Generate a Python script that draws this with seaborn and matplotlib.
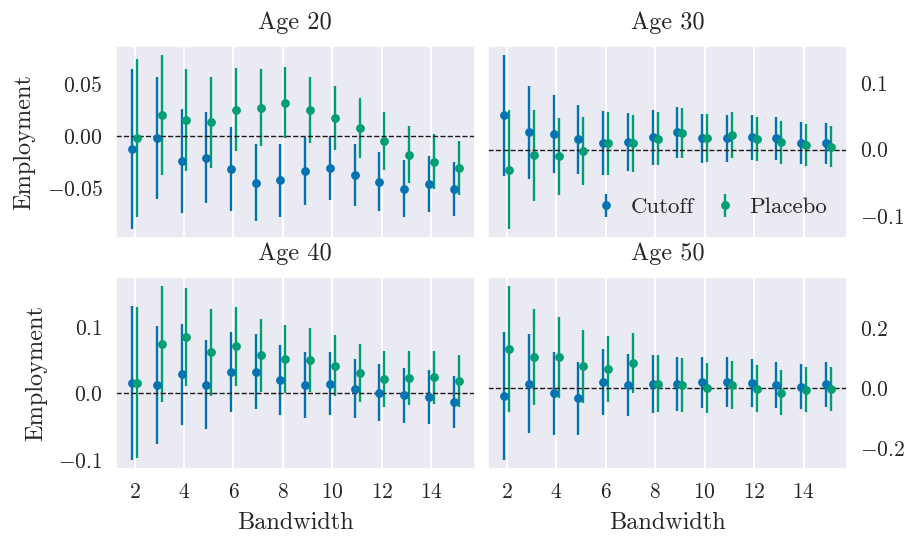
import numpy as np
import seaborn as sns
import matplotlib.pyplot as plt
from matplotlib.ticker import MultipleLocator

bandwidth = np.arange(2, 16)
ages = [20, 30, 40, 50]

# point estimates and half-widths of the intervals
cutoff_20 = [-0.013, -0.002, -0.024, -0.021, -0.032, -0.045, -0.043, -0.034, -0.031, -0.038, -0.044, -0.051, -0.046, -0.051]
cutoff_20_err = [0.077, 0.059, 0.050, 0.044, 0.040, 0.037, 0.035, 0.0325, 0.031, 0.030, 0.0287, 0.0274, 0.027, 0.026]
placebo_20 = [-0.002, 0.020, 0.015, 0.013, 0.025, 0.027, 0.032, 0.025, 0.017, 0.0074, -0.005, -0.018, -0.025, -0.031]
placebo_20_err = [0.076, 0.058, 0.049, 0.044, 0.040, 0.037, 0.034, 0.032, 0.031, 0.029, 0.028, 0.027, 0.0266, 0.026]

cutoff_30 = [0.052, 0.026, 0.024, 0.016, 0.010, 0.0115, 0.0185, 0.026, 0.017, 0.017, 0.0185, 0.017, 0.010, 0.0095]
cutoff_30_err = [0.091, 0.070, 0.059, 0.052, 0.048, 0.044, 0.041, 0.0386, 0.0366, 0.035, 0.0336, 0.0323, 0.0316, 0.031]
placebo_30 = [-0.030, -0.0085, -0.010, -0.002, 0.0095, 0.0095, 0.0165, 0.025, 0.018, 0.022, 0.0155, 0.011, 0.007, 0.0045]
placebo_30_err = [0.090, 0.069, 0.058, 0.0516, 0.047, 0.0434, 0.040, 0.038, 0.0363, 0.0348, 0.0333, 0.0325, 0.0313, 0.031]

cutoff_40 = [0.0155, 0.013, 0.0286, 0.013, 0.0326, 0.033, 0.0205, 0.013, 0.015, 0.007, 0.001, -0.003, -0.0055, -0.013]
cutoff_40_err = [0.1165, 0.089, 0.076, 0.067, 0.0607, 0.056, 0.0526, 0.0496, 0.047, 0.0446, 0.043, 0.0416, 0.0403, 0.039]
placebo_40 = [0.0165, 0.0747, 0.0852, 0.062, 0.071, 0.0576, 0.052, 0.0506, 0.042, 0.0306, 0.0216, 0.0236, 0.0246, 0.0185]
placebo_40_err = [0.1138, 0.0877, 0.074, 0.0657, 0.060, 0.055, 0.0514, 0.0486, 0.0459, 0.0439, 0.0424, 0.041, 0.040, 0.039]

cutoff_50 = [-0.0255, 0.0155, -0.0155, -0.0332, 0.021, 0.0122, 0.0155, 0.0155, 0.0199, 0.021, 0.0177, 0.011, 0.0055, 0.0133]
cutoff_50_err = [0.2137, 0.1639, 0.1379, 0.1218, 0.1107, 0.1024, 0.0963, 0.0903, 0.0853, 0.0819, 0.0792, 0.077, 0.0753, 0.0742]
placebo_50 = [0.1318, 0.1052, 0.1030, 0.0731, 0.0642, 0.0853, 0.0155, 0.0111, 0.0011, 0.0100, -0.0011, -0.0144, -0.0044, -0.0011]
placebo_50_err = [0.2093, 0.1595, 0.1357, 0.1202, 0.1085, 0.0997, 0.0941, 0.0886, 0.0836, 0.0797, 0.0781, 0.0753, 0.0748, 0.0736]

cutoffs = [(cutoff_20, cutoff_20_err), (cutoff_30, cutoff_30_err), (cutoff_40, cutoff_40_err), (cutoff_50, cutoff_50_err)]
placebos = [(placebo_20, placebo_20_err), (placebo_30, placebo_30_err), (placebo_40, placebo_40_err), (placebo_50, placebo_50_err)]
ytick_steps = [0.05, 0.1, 0.1, 0.2]

sns.set_theme(style='darkgrid', palette='colorblind')
plt.rcParams['font.family'] = ['cmr10']
plt.rcParams['mathtext.fontset'] = 'cm'
plt.rcParams['axes.formatter.use_mathtext'] = True
plt.rcParams['grid.linewidth'] = 1.4
colors = sns.color_palette('colorblind')

fig, axes = plt.subplots(2, 2, figsize=(9.11, 5.38), dpi=100, sharex=True)
fig.subplots_adjust(left=0.127, right=0.930, top=0.9145, bottom=0.128, wspace=0.036, hspace=0.203)

for i, ax in enumerate(axes.flat):
    est, err = cutoffs[i]
    ax.errorbar(bandwidth - 0.1, est, yerr=err, fmt='o', ms=5.3, elinewidth=1.7, capsize=0,
                color=colors[0], label='Cutoff')
    est, err = placebos[i]
    ax.errorbar(bandwidth + 0.1, est, yerr=err, fmt='o', ms=5.3, elinewidth=1.7, capsize=0,
                color=colors[2], label='Placebo')
    ax.axhline(0, color='k', linestyle='--', lw=1)
    ax.grid(axis='y', visible=False)
    ax.yaxis.set_major_locator(MultipleLocator(ytick_steps[i]))
    ax.set_title('Age {}'.format(ages[i]), fontsize=17.5, pad=12)
    ax.tick_params(axis='both', labelsize=15.5)
    if i % 2 == 1:
        ax.tick_params(axis='y', left=False, right=False, labelleft=False, labelright=True)
    else:
        ax.set_ylabel('Employment', fontsize=17.5, labelpad=8)
    if i >= 2:
        ax.set_xlabel('Bandwidth', fontsize=17.5, labelpad=7)

ax = axes[1, 0]
ax.set_xticks(np.arange(2, 16, 2))
for a in axes[1]:
    for lab in a.get_xticklabels():
        if lab.get_text() == '10':
            lab.set_color('red')

axes[0, 1].legend(loc='lower right', ncol=2, frameon=False, fontsize=16.5,
                  handlelength=1.0, handletextpad=0.55, columnspacing=0.85)

plt.savefig('out.png', dpi=100)
